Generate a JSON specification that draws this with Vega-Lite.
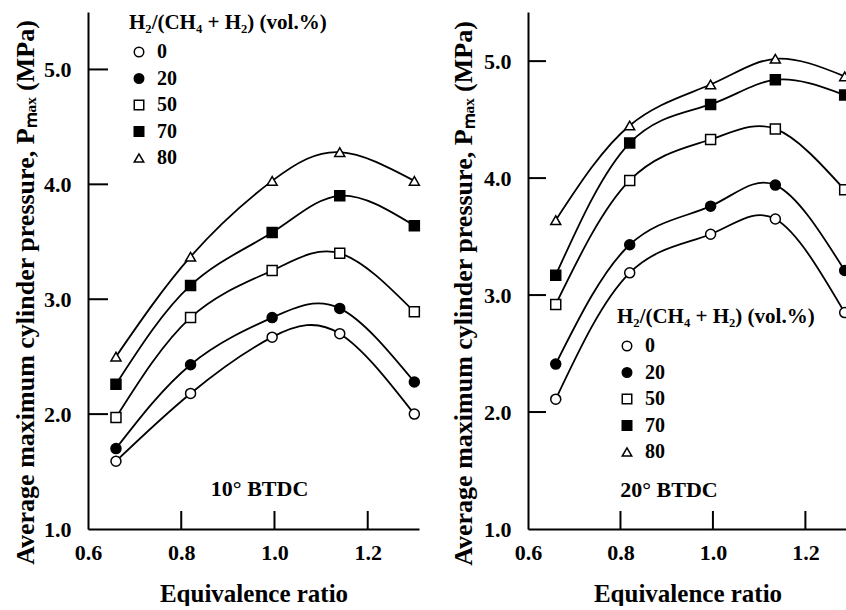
{
  "$schema": "https://vega.github.io/schema/vega-lite/v6.json",
  "background": "white",
  "padding": {"left": 12, "top": 12, "right": 0, "bottom": 0},
  "bounds": "flush",
  "spacing": 109,
  "datasets": {
    "btdc10": [
      {"h2": 0, "phi": 0.66, "p": 1.59}, {"h2": 0, "phi": 0.82, "p": 2.18}, {"h2": 0, "phi": 0.995, "p": 2.67}, {"h2": 0, "phi": 1.14, "p": 2.70}, {"h2": 0, "phi": 1.30, "p": 2.00},
      {"h2": 20, "phi": 0.66, "p": 1.70}, {"h2": 20, "phi": 0.82, "p": 2.43}, {"h2": 20, "phi": 0.995, "p": 2.84}, {"h2": 20, "phi": 1.14, "p": 2.92}, {"h2": 20, "phi": 1.30, "p": 2.28},
      {"h2": 50, "phi": 0.66, "p": 1.97}, {"h2": 50, "phi": 0.82, "p": 2.84}, {"h2": 50, "phi": 0.995, "p": 3.25}, {"h2": 50, "phi": 1.14, "p": 3.40}, {"h2": 50, "phi": 1.30, "p": 2.89},
      {"h2": 70, "phi": 0.66, "p": 2.26}, {"h2": 70, "phi": 0.82, "p": 3.12}, {"h2": 70, "phi": 0.995, "p": 3.58}, {"h2": 70, "phi": 1.14, "p": 3.90}, {"h2": 70, "phi": 1.30, "p": 3.64},
      {"h2": 80, "phi": 0.66, "p": 2.50}, {"h2": 80, "phi": 0.82, "p": 3.37}, {"h2": 80, "phi": 0.995, "p": 4.03}, {"h2": 80, "phi": 1.14, "p": 4.28}, {"h2": 80, "phi": 1.30, "p": 4.03}
    ],
    "btdc20": [
      {"h2": 0, "phi": 0.66, "p": 2.11}, {"h2": 0, "phi": 0.82, "p": 3.19}, {"h2": 0, "phi": 0.995, "p": 3.52}, {"h2": 0, "phi": 1.135, "p": 3.65}, {"h2": 0, "phi": 1.285, "p": 2.85},
      {"h2": 20, "phi": 0.66, "p": 2.41}, {"h2": 20, "phi": 0.82, "p": 3.43}, {"h2": 20, "phi": 0.995, "p": 3.76}, {"h2": 20, "phi": 1.135, "p": 3.94}, {"h2": 20, "phi": 1.285, "p": 3.21},
      {"h2": 50, "phi": 0.66, "p": 2.92}, {"h2": 50, "phi": 0.82, "p": 3.98}, {"h2": 50, "phi": 0.995, "p": 4.33}, {"h2": 50, "phi": 1.135, "p": 4.42}, {"h2": 50, "phi": 1.285, "p": 3.90},
      {"h2": 70, "phi": 0.66, "p": 3.17}, {"h2": 70, "phi": 0.82, "p": 4.30}, {"h2": 70, "phi": 0.995, "p": 4.63}, {"h2": 70, "phi": 1.135, "p": 4.84}, {"h2": 70, "phi": 1.285, "p": 4.71},
      {"h2": 80, "phi": 0.66, "p": 3.64}, {"h2": 80, "phi": 0.82, "p": 4.45}, {"h2": 80, "phi": 0.995, "p": 4.80}, {"h2": 80, "phi": 1.135, "p": 5.02}, {"h2": 80, "phi": 1.285, "p": 4.87}
    ],
    "xticks": [{"v": 0.8}, {"v": 1.0}, {"v": 1.2}],
    "yticks": [{"v": 2.0}, {"v": 3.0}, {"v": 4.0}, {"v": 5.0}]
  },
  "config": {
    "font": "Liberation Serif",
    "view": {"stroke": null},
    "axis": {
      "domainColor": "black", "domainWidth": 2, "ticks": false, "grid": false,
      "labelFont": "Liberation Serif", "labelFontWeight": "bold", "labelFontSize": 22, "labelColor": "black",
      "titleFont": "Liberation Serif", "titleFontWeight": "bold", "titleFontSize": 25, "titleColor": "black",
      "labelFlush": false, "labelOverlap": false
    },
    "legend": {
      "titleFont": "Liberation Serif", "titleFontWeight": "bold", "titleFontSize": 21, "titleColor": "black",
      "labelFont": "Liberation Serif", "labelFontWeight": "bold", "labelFontSize": 20, "labelColor": "black",
      "symbolSize": 90, "symbolStrokeWidth": 1.5, "labelOffset": 8,
      "titlePadding": 9, "rowPadding": 6.5, "titleLimit": 400, "labelLimit": 200
    }
  },
  "hconcat": [
    {
      "width": 331,
      "height": 517,
      "data": {"name": "btdc10"},
      "layer": [
        {
          "mark": {"type": "line", "interpolate": "natural", "color": "black", "strokeWidth": 1.8},
          "encoding": {
            "x": {"field": "phi", "type": "quantitative", "scale": {"domain": [0.6, 1.31], "nice": false, "zero": false},
              "axis": {"title": "Equivalence ratio", "values": [0.6, 0.8, 1.0, 1.2], "format": ".1f", "labelPadding": 13, "titleY": 64, "titleBaseline": "middle"}},
            "y": {"field": "p", "type": "quantitative", "scale": {"domain": [1, 5.5], "nice": false, "zero": false},
              "axis": {"title": "Average maximum cylinder pressure, Pₘₐₓ (MPa)", "values": [1, 2, 3, 4, 5], "format": ".1f", "labelPadding": 17, "titleX": -63, "titleY": 280, "titleFontSize": 26, "titleBaseline": "middle", "titleAlign": "center", "titleAngle": -90}},
            "detail": {"field": "h2", "type": "ordinal"}
          }
        },
        {
          "data": {"name": "xticks"},
          "mark": {"type": "tick", "orient": "vertical", "size": 18, "thickness": 2, "color": "black", "opacity": 1, "yOffset": -9},
          "encoding": {
            "x": {"field": "v", "type": "quantitative"},
            "y": {"datum": 1, "type": "quantitative"}
          }
        },
        {
          "data": {"name": "yticks"},
          "mark": {"type": "tick", "orient": "horizontal", "size": 20, "thickness": 2, "color": "black", "opacity": 1, "xOffset": 10},
          "encoding": {
            "x": {"datum": 0.6, "type": "quantitative"},
            "y": {"field": "v", "type": "quantitative"}
          }
        },
        {
          "mark": {"type": "point", "filled": true, "size": 100, "strokeWidth": 1.5, "opacity": 1},
          "encoding": {
            "x": {"field": "phi", "type": "quantitative"},
            "y": {"field": "p", "type": "quantitative"},
            "shape": {"field": "h2", "type": "ordinal", "title": "H₂/(CH₄ + H₂) (vol.%)", "scale": {"domain": [0, 20, 50, 70, 80], "range": ["circle", "circle", "square", "square", "triangle-up"]},
              "legend": {"orient": "none", "legendX": 41, "legendY": 0}},
            "fill": {"field": "h2", "type": "ordinal", "title": "H₂/(CH₄ + H₂) (vol.%)", "scale": {"domain": [0, 20, 50, 70, 80], "range": ["white", "black", "white", "black", "white"]},
              "legend": {"orient": "none", "legendX": 41, "legendY": 0}},
            "stroke": {"field": "h2", "type": "ordinal", "title": "H₂/(CH₄ + H₂) (vol.%)", "scale": {"domain": [0, 20, 50, 70, 80], "range": ["black", "black", "black", "black", "black"]},
              "legend": {"orient": "none", "legendX": 41, "legendY": 0}}
          }
        },
        {
          "data": {"values": [{"label": "10° BTDC", "phi": 0.968, "p": 1.35}]},
          "mark": {"type": "text", "font": "Liberation Serif", "fontWeight": "bold", "fontSize": 22, "color": "black", "align": "center", "baseline": "middle"},
          "encoding": {
            "x": {"field": "phi", "type": "quantitative"},
            "y": {"field": "p", "type": "quantitative"},
            "text": {"field": "label"}
          }
        }
      ]
    },
    {
      "width": 319,
      "height": 517,
      "data": {"name": "btdc20"},
      "layer": [
        {
          "mark": {"type": "line", "interpolate": "natural", "color": "black", "strokeWidth": 1.8, "clip": true},
          "encoding": {
            "x": {"field": "phi", "type": "quantitative", "scale": {"domain": [0.6, 1.29], "nice": false, "zero": false},
              "axis": {"title": "Equivalence ratio", "values": [0.6, 0.8, 1.0, 1.2], "format": ".1f", "labelPadding": 13, "titleY": 64, "titleBaseline": "middle"}},
            "y": {"field": "p", "type": "quantitative", "scale": {"domain": [1, 5.42], "nice": false, "zero": false},
              "axis": {"title": "Average maximum cylinder pressure, Pₘₐₓ (MPa)", "values": [1, 2, 3, 4, 5], "format": ".1f", "labelPadding": 17, "titleX": -65, "titleY": 281, "titleFontSize": 26, "titleBaseline": "middle", "titleAlign": "center", "titleAngle": -90}},
            "detail": {"field": "h2", "type": "ordinal"}
          }
        },
        {
          "data": {"name": "xticks"},
          "mark": {"type": "tick", "orient": "vertical", "size": 18, "thickness": 2, "color": "black", "opacity": 1, "yOffset": -9},
          "encoding": {
            "x": {"field": "v", "type": "quantitative"},
            "y": {"datum": 1, "type": "quantitative"}
          }
        },
        {
          "data": {"name": "yticks"},
          "mark": {"type": "tick", "orient": "horizontal", "size": 18, "thickness": 2, "color": "black", "opacity": 1, "xOffset": 9},
          "encoding": {
            "x": {"datum": 0.6, "type": "quantitative"},
            "y": {"field": "v", "type": "quantitative"}
          }
        },
        {
          "mark": {"type": "point", "filled": true, "size": 100, "strokeWidth": 1.5, "opacity": 1, "clip": true},
          "encoding": {
            "x": {"field": "phi", "type": "quantitative"},
            "y": {"field": "p", "type": "quantitative"},
            "shape": {"field": "h2", "type": "ordinal", "title": "H₂/(CH₄ + H₂) (vol.%)", "scale": {"domain": [0, 20, 50, 70, 80], "range": ["circle", "circle", "square", "square", "triangle-up"]},
              "legend": {"orient": "none", "legendX": 89, "legendY": 294}},
            "fill": {"field": "h2", "type": "ordinal", "title": "H₂/(CH₄ + H₂) (vol.%)", "scale": {"domain": [0, 20, 50, 70, 80], "range": ["white", "black", "white", "black", "white"]},
              "legend": {"orient": "none", "legendX": 89, "legendY": 294}},
            "stroke": {"field": "h2", "type": "ordinal", "title": "H₂/(CH₄ + H₂) (vol.%)", "scale": {"domain": [0, 20, 50, 70, 80], "range": ["black", "black", "black", "black", "black"]},
              "legend": {"orient": "none", "legendX": 89, "legendY": 294}}
          }
        },
        {
          "data": {"values": [{"label": "20° BTDC", "phi": 0.905, "p": 1.33}]},
          "mark": {"type": "text", "font": "Liberation Serif", "fontWeight": "bold", "fontSize": 22, "color": "black", "align": "center", "baseline": "middle"},
          "encoding": {
            "x": {"field": "phi", "type": "quantitative"},
            "y": {"field": "p", "type": "quantitative"},
            "text": {"field": "label"}
          }
        }
      ]
    }
  ],
  "resolve": {
    "scale": {"x": "independent", "y": "independent", "shape": "independent", "fill": "independent", "stroke": "independent"},
    "legend": {"shape": "independent", "fill": "independent", "stroke": "independent"}
  }
}
